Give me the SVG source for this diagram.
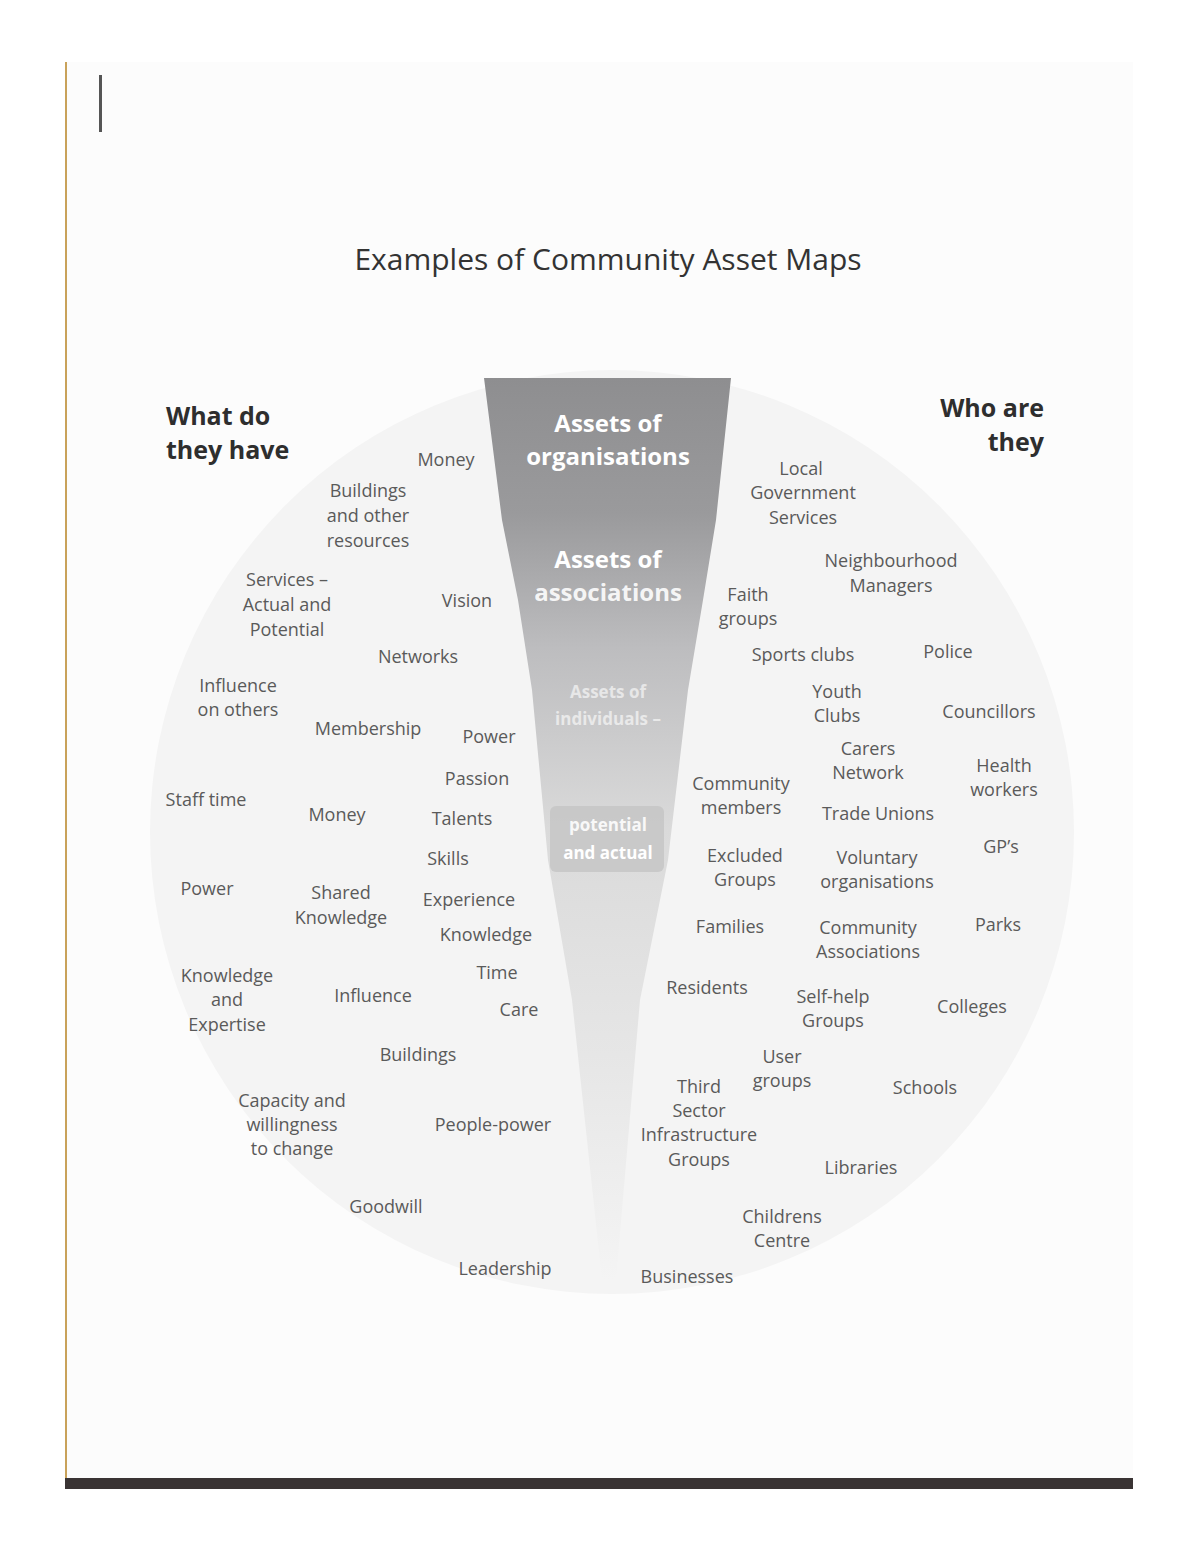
<svg xmlns="http://www.w3.org/2000/svg" width="1200" height="1553" viewBox="0 0 1200 1553">
<defs>
<linearGradient id="fg" x1="0" y1="0" x2="0" y2="1">
<stop offset="0" stop-color="#8e8e90"/>
<stop offset="0.15" stop-color="#9a9a9c"/>
<stop offset="0.3" stop-color="#bdbdbf"/>
<stop offset="0.5" stop-color="#dadada"/>
<stop offset="0.75" stop-color="#e6e6e6"/>
<stop offset="1" stop-color="#f4f4f4"/>
</linearGradient>
<style>
.t{font-family:"Open Sans","Liberation Sans",sans-serif;font-size:18px;fill:#5a5a5a;text-anchor:middle}
.h{font-family:"Open Sans","Liberation Sans",sans-serif;font-size:25px;font-weight:700;fill:#2e2e2e}
.f{font-family:"Open Sans","Liberation Sans",sans-serif;font-size:24px;font-weight:700;fill:#ffffff;text-anchor:middle}
.s{font-family:"Open Sans","Liberation Sans",sans-serif;font-size:17px;font-weight:700;fill:#ffffff;text-anchor:middle}
</style>
</defs>
<rect width="1200" height="1553" fill="#ffffff"/>
<g id="page">
<rect x="66" y="62" width="1067" height="1420" fill="#fcfcfc"/>
<line x1="66" y1="62" x2="66" y2="1488" stroke="#c9a25a" stroke-width="2"/>
<rect x="65" y="1478" width="1068" height="11" fill="#3a3434"/>
<rect x="99" y="75" width="3" height="57" fill="#555"/>
</g>
<g id="background">
<circle cx="612" cy="832" r="462" fill="#f4f4f4"/>
<path d="M484,378 L731,378 L716,520 L703,600 L688,690 L668,860 L640,1000 L616,1280 L602,1280 L572,1000 L548,860 L532,690 L518,600 L502,520 Z" fill="url(#fg)"/>
<rect x="550" y="806" width="114" height="66" rx="6" fill="#c4c4c4" opacity="0.8"/>
</g>
<g id="title">
<text x="608" y="270" font-family="Open Sans, Liberation Sans, sans-serif" font-size="30" fill="#333" text-anchor="middle">Examples of Community Asset Maps</text>
</g>
<g id="heading-left"><text class="h" x="166" y="425">What do</text><text class="h" x="166" y="459">they have</text></g>
<g id="heading-right"><text class="h" x="1044" y="417" text-anchor="end">Who are</text><text class="h" x="1044" y="451" text-anchor="end">they</text></g>
<g id="funnel-labels">
<g id="f-org"><text class="f" x="608" y="432">Assets of</text><text class="f" x="608" y="465">organisations</text></g>
<g id="f-assoc"><text class="f" x="608" y="568">Assets of</text><text class="f" x="608" y="601" fill-opacity="0.9">associations</text></g>
<g id="f-ind" opacity="0.6"><text class="s" x="608" y="698">Assets of</text><text class="s" x="608" y="725">individuals –</text></g>
<g id="f-pot"><text class="s" x="608" y="831" fill-opacity="0.9">potential</text><text class="s" x="608" y="859">and actual</text></g>
</g>
<g id="left-items">
<g id="l1"><text class="t" x="446" y="466">Money</text></g>
<g id="l2"><text class="t" x="368" y="497">Buildings</text><text class="t" x="368" y="522">and other</text><text class="t" x="368" y="547">resources</text></g>
<g id="l3"><text class="t" x="287" y="586">Services –</text><text class="t" x="287" y="611">Actual and</text><text class="t" x="287" y="636">Potential</text></g>
<g id="l4"><text class="t" x="467" y="607">Vision</text></g>
<g id="l5"><text class="t" x="418" y="663">Networks</text></g>
<g id="l6"><text class="t" x="238" y="692">Influence</text><text class="t" x="238" y="716">on others</text></g>
<g id="l7"><text class="t" x="368" y="735">Membership</text></g>
<g id="l8"><text class="t" x="489" y="743">Power</text></g>
<g id="l9"><text class="t" x="477" y="785">Passion</text></g>
<g id="l10"><text class="t" x="206" y="806">Staff time</text></g>
<g id="l11"><text class="t" x="337" y="821">Money</text></g>
<g id="l12"><text class="t" x="462" y="825">Talents</text></g>
<g id="l13"><text class="t" x="448" y="865">Skills</text></g>
<g id="l14"><text class="t" x="207" y="895">Power</text></g>
<g id="l15"><text class="t" x="341" y="899">Shared</text><text class="t" x="341" y="924">Knowledge</text></g>
<g id="l16"><text class="t" x="469" y="906">Experience</text></g>
<g id="l17"><text class="t" x="486" y="941">Knowledge</text></g>
<g id="l18"><text class="t" x="227" y="982">Knowledge</text><text class="t" x="227" y="1006">and</text><text class="t" x="227" y="1031">Expertise</text></g>
<g id="l19"><text class="t" x="497" y="979">Time</text></g>
<g id="l20"><text class="t" x="373" y="1002">Influence</text></g>
<g id="l21"><text class="t" x="519" y="1016">Care</text></g>
<g id="l22"><text class="t" x="418" y="1061">Buildings</text></g>
<g id="l23"><text class="t" x="292" y="1107">Capacity and</text><text class="t" x="292" y="1131">willingness</text><text class="t" x="292" y="1155">to change</text></g>
<g id="l24"><text class="t" x="493" y="1131">People-power</text></g>
<g id="l25"><text class="t" x="386" y="1213">Goodwill</text></g>
<g id="l26"><text class="t" x="505" y="1275">Leadership</text></g>
</g>
<g id="right-items">
<g id="r1"><text class="t" x="801" y="475">Local</text><text class="t" x="803" y="499">Government</text><text class="t" x="803" y="524">Services</text></g>
<g id="r2"><text class="t" x="891" y="567">Neighbourhood</text><text class="t" x="891" y="592">Managers</text></g>
<g id="r3"><text class="t" x="748" y="601">Faith</text><text class="t" x="748" y="625">groups</text></g>
<g id="r4"><text class="t" x="803" y="661">Sports clubs</text></g>
<g id="r5"><text class="t" x="948" y="658">Police</text></g>
<g id="r6"><text class="t" x="837" y="698">Youth</text><text class="t" x="837" y="722">Clubs</text></g>
<g id="r7"><text class="t" x="989" y="718" fill="#7a7a7a">Councillors</text></g>
<g id="r8"><text class="t" x="868" y="755">Carers</text><text class="t" x="868" y="779">Network</text></g>
<g id="r9"><text class="t" x="1004" y="772">Health</text><text class="t" x="1004" y="796">workers</text></g>
<g id="r10"><text class="t" x="741" y="790">Community</text><text class="t" x="741" y="814">members</text></g>
<g id="r11"><text class="t" x="878" y="820">Trade Unions</text></g>
<g id="r12"><text class="t" x="1001" y="853">GP’s</text></g>
<g id="r13"><text class="t" x="745" y="862">Excluded</text><text class="t" x="745" y="886">Groups</text></g>
<g id="r14"><text class="t" x="877" y="864">Voluntary</text><text class="t" x="877" y="888">organisations</text></g>
<g id="r15"><text class="t" x="730" y="933">Families</text></g>
<g id="r16"><text class="t" x="868" y="934" fill="#777">Community</text><text class="t" x="868" y="958" fill="#777">Associations</text></g>
<g id="r17"><text class="t" x="998" y="931">Parks</text></g>
<g id="r18"><text class="t" x="707" y="994">Residents</text></g>
<g id="r19"><text class="t" x="833" y="1003">Self-help</text><text class="t" x="833" y="1027">Groups</text></g>
<g id="r20"><text class="t" x="972" y="1013">Colleges</text></g>
<g id="r21"><text class="t" x="782" y="1063">User</text><text class="t" x="782" y="1087">groups</text></g>
<g id="r22"><text class="t" x="699" y="1093">Third</text><text class="t" x="699" y="1117">Sector</text><text class="t" x="699" y="1141">Infrastructure</text><text class="t" x="699" y="1166">Groups</text></g>
<g id="r23"><text class="t" x="925" y="1094">Schools</text></g>
<g id="r24"><text class="t" x="861" y="1174">Libraries</text></g>
<g id="r25"><text class="t" x="782" y="1223">Childrens</text><text class="t" x="782" y="1247">Centre</text></g>
<g id="r26"><text class="t" x="687" y="1283">Businesses</text></g>
</g>
<g id="connectors"></g>
</svg>
